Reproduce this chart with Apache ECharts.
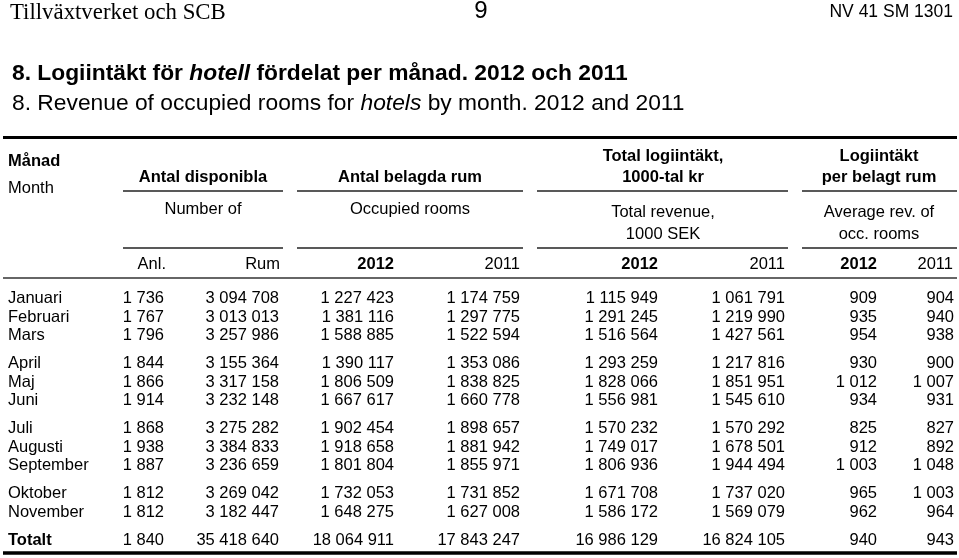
<!DOCTYPE html>
<html><head><meta charset="utf-8">
<script src="https://cdn.jsdelivr.net/npm/echarts@6/dist/echarts.min.js"></script>
<style>html,body{margin:0;padding:0;background:#fff}#c{width:959px;height:558px}</style>
</head><body><div id="c"></div>
<script>
// ---- data ----
const months = ['Januari','Februari','Mars','April','Maj','Juni','Juli','Augusti','September','Oktober','November','Totalt'];
const anl     = [1736,1767,1796,1844,1866,1914,1868,1938,1887,1812,1812,1840];
const rum     = [3094708,3013013,3257986,3155364,3317158,3232148,3275282,3384833,3236659,3269042,3182447,35418640];
const occ2012 = [1227423,1381116,1588885,1390117,1806509,1667617,1902454,1918658,1801804,1732053,1648275,18064911];
const occ2011 = [1174759,1297775,1522594,1353086,1838825,1660778,1898657,1881942,1855971,1731852,1627008,17843247];
const rev2012 = [1115949,1291245,1516564,1293259,1828066,1556981,1570232,1749017,1806936,1671708,1586172,16986129];
const rev2011 = [1061791,1219990,1427561,1217816,1851951,1545610,1570292,1678501,1944494,1737020,1569079,16824105];
const avg2012 = [909,935,954,930,1012,934,825,912,1003,965,962,940];
const avg2011 = [904,940,938,900,1007,931,827,892,1048,1003,964,943];
const subLabels = ['Anl.','Rum','2012','2011','2012','2011','2012','2011'];

// ---- layout (not data) ----
const colRight = [164, 279, 394, 520, 658, 785, 877, 954];
const subRight = [166, 280, 394, 520, 658, 785, 877, 953];
const subBold  = [false,false,true,false,true,false,true,false];
const rowGroup = [0,0,0,1,1,1,2,2,2,3,3,4];
const GROUP_GAP = 0.52;
const SANS = "'Liberation Sans', Arial, Helvetica, sans-serif";
const SERIF = "'Liberation Serif', 'Times New Roman', serif";
const FS = 16.5;
const TFS = 22.8;

const fmt = v => String(v).replace(/\B(?=(\d{3})+(?!\d))/g, ' ');
const columns = [anl, rum, occ2012, occ2011, rev2012, rev2011, avg2012, avg2011];

const cells = [];
months.forEach((m, i) => {
  const pos = i + rowGroup[i] * GROUP_GAP;
  const bold = m === 'Totalt';
  cells.push({value: [8, pos], text: m, align: 'left', bold: bold});
  columns.forEach((col, c) => {
    cells.push({value: [colRight[c], pos], text: fmt(col[i]), align: 'right', bold: false});
  });
});

function txt(x, y, text, opts) {
  opts = opts || {};
  const a = opts.align || 'left';
  return {
    type: 'text', x: x, y: y, silent: true,
    style: {
      text: text, align: a, textAlign: a, verticalAlign: 'middle', textVerticalAlign: 'middle',
      fontSize: opts.size || FS, fontFamily: opts.family || SANS,
      fontWeight: opts.bold ? 'bold' : 'normal', fill: '#000',
      rich: opts.rich
    }
  };
}
function hline(x1, x2, y, w, color) {
  return {type: 'line', silent: true, shape: {x1: x1, y1: y, x2: x2, y2: y},
    style: {stroke: color || '#000', lineWidth: w}};
}

const graphics = [
  txt(10, 13, 'Tillväxtverket och SCB', {size: 22.8, family: SERIF}),
  txt(481, 11.5, '9', {size: 24, align: 'center'}),
  txt(953, 12.5, 'NV 41 SM 1301', {size: 17.5, align: 'right'}),
  txt(12, 74, '{b|8. Logiintäkt för }{bi|hotell}{b| fördelat per månad. 2012 och 2011}', {size: TFS, rich: {
    b: {fontSize: TFS, fontFamily: SANS, fontWeight: 'bold', fill: '#000'},
    bi: {fontSize: TFS, fontFamily: SANS, fontWeight: 'bold', fontStyle: 'italic', fill: '#000'}
  }}),
  txt(12, 104, '{r|8. Revenue of occupied rooms for }{i|hotels}{r| by month. 2012 and 2011}', {size: TFS, rich: {
    r: {fontSize: TFS, fontFamily: SANS, fill: '#000'},
    i: {fontSize: TFS, fontFamily: SANS, fontStyle: 'italic', fill: '#000'}
  }}),
  hline(3, 957, 137.5, 3),
  txt(8, 161, 'Månad', {bold: true}),
  txt(8, 188, 'Month'),
  txt(203, 177, 'Antal disponibla', {bold: true, align: 'center'}),
  txt(410, 177, 'Antal belagda rum', {bold: true, align: 'center'}),
  txt(663, 156, 'Total logiintäkt,', {bold: true, align: 'center'}),
  txt(663, 177, '1000-tal kr', {bold: true, align: 'center'}),
  txt(879, 156, 'Logiintäkt', {bold: true, align: 'center'}),
  txt(879, 177, 'per belagt rum', {bold: true, align: 'center'}),
  hline(123, 283, 191, 1.5, '#222'), hline(297, 523, 191, 1.5, '#222'),
  hline(537, 788, 191, 1.5, '#222'), hline(802, 957, 191, 1.5, '#222'),
  txt(203, 209, 'Number of', {align: 'center'}),
  txt(410, 209, 'Occupied rooms', {align: 'center'}),
  txt(663, 212, 'Total revenue,', {align: 'center'}),
  txt(663, 234, '1000 SEK', {align: 'center'}),
  txt(879, 212, 'Average rev. of', {align: 'center'}),
  txt(879, 234, 'occ. rooms', {align: 'center'}),
  hline(123, 283, 248, 1.5, '#222'), hline(297, 523, 248, 1.5, '#222'),
  hline(537, 788, 248, 1.5, '#222'), hline(802, 957, 248, 1.5, '#222'),
  hline(3, 957, 278, 1.5, '#333'),
  hline(3, 957, 553, 3.5)
];
subLabels.forEach((s, k) => graphics.push(txt(subRight[k], 264, s, {align: 'right', bold: subBold[k]})));

const chart = echarts.init(document.getElementById('c'), null, {renderer: 'canvas'});
chart.setOption({
  animation: false,
  backgroundColor: '#fff',
  grid: {left: 0, top: 280, width: 959, height: 277.5},
  xAxis: {type: 'value', min: 0, max: 959, show: false},
  yAxis: {type: 'value', min: -1, max: 14, inverse: true, show: false},
  graphic: graphics,
  series: [{
    type: 'custom',
    coordinateSystem: 'cartesian2d',
    silent: true,
    data: cells,
    renderItem: function (params, api) {
      const d = cells[params.dataIndex];
      const p = api.coord([api.value(0), api.value(1)]);
      return {
        type: 'text', x: p[0], y: p[1],
        style: {
          text: d.text, align: d.align, textAlign: d.align,
          verticalAlign: 'middle', textVerticalAlign: 'middle',
          fontSize: FS, fontFamily: SANS, fontWeight: d.bold ? 'bold' : 'normal', fill: '#000'
        }
      };
    }
  }]
});
</script>
</body></html>
